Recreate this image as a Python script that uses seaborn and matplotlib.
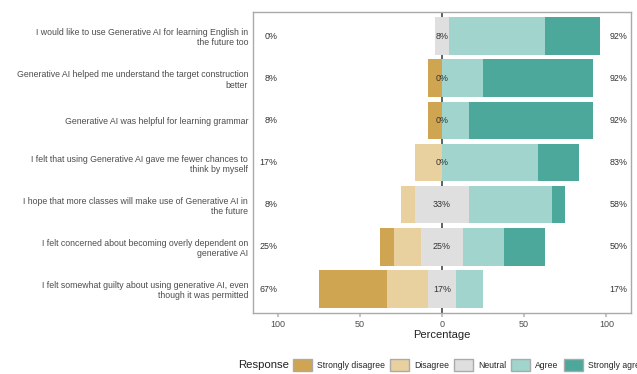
import numpy as np
import pandas as pd
import matplotlib
matplotlib.use("Agg")
import matplotlib.pyplot as plt
import seaborn as sns
from matplotlib.patches import Patch

# Survey items (top to bottom) and response counts (n = 12)
items = [
    "I would like to use Generative AI for learning English in\nthe future too",
    "Generative AI helped me understand the target construction\nbetter",
    "Generative AI was helpful for learning grammar",
    "I felt that using Generative AI gave me fewer chances to\nthink by myself",
    "I hope that more classes will make use of Generative AI in\nthe future",
    "I felt concerned about becoming overly dependent on\ngenerative AI",
    "I felt somewhat guilty about using generative AI, even\nthough it was permitted",
]
levels = ["Strongly disagree", "Disagree", "Neutral", "Agree", "Strongly agree"]
strongly_disagree = [0, 1, 1, 0, 0, 1, 5]
disagree = [0, 0, 0, 2, 1, 2, 3]
neutral = [1, 0, 0, 0, 4, 3, 2]
agree = [7, 3, 2, 7, 6, 3, 2]
strongly_agree = [4, 8, 9, 3, 1, 3, 0]
n_resp = 12

colors = ["#CFA551", "#E8D19F", "#DFDFDF", "#A0D4CC", "#4BA89B"]

sns.set_theme(style="white")
plt.rcParams["font.family"] = ["Liberation Sans", "DejaVu Sans"]

df = pd.DataFrame({
    "item": items,
    "sd": strongly_disagree, "d": disagree, "n": neutral,
    "a": agree, "sa": strongly_agree,
})
for c in ["sd", "d", "n", "a", "sa"]:
    df[c] = df[c] / n_resp * 100

# cumulative ends for the diverging stack
half = df["n"] / 2
layers = [
    (half + df["a"] + df["sa"], colors[4]),
    (half + df["a"], colors[3]),
    (-(half + df["d"] + df["sd"]), colors[0]),
    (-(half + df["d"]), colors[1]),
    (half, colors[2]),
    (-half, colors[2]),
]

fig = plt.figure(figsize=(6.37, 3.74), dpi=100)
ax = fig.add_axes([0.397, 0.163, 0.5936, 0.805])

ax.axvline(0, color="#555555", lw=1.3, zorder=0)
for ends, col in layers:
    d = pd.DataFrame({"item": df["item"], "end": ends})
    sns.barplot(data=d, x="end", y="item", order=items, color=col,
                saturation=1, width=0.89, errorbar=None, linewidth=0,
                orient="h", ax=ax, zorder=2)

low = df["sd"] + df["d"]
high = df["a"] + df["sa"]
for i in range(len(items)):
    ax.text(-100, i, f"{low[i]:.0f}%", ha="right", va="center",
            fontsize=6.4, color="#333333", zorder=3)
    ax.text(102, i, f"{high[i]:.0f}%", ha="left", va="center",
            fontsize=6.4, color="#333333", zorder=3)
    ax.text(0, i, f"{df['n'][i]:.0f}%", ha="center", va="center",
            fontsize=6.4, color="#333333", zorder=3)

ax.set_xlim(-115, 115)
ax.set_ylim(6.57, -0.57)
ax.set_xticks([-100, -50, 0, 50, 100])
ax.set_xticklabels(["100", "50", "0", "50", "100"])
ax.tick_params(axis="x", length=3, color="#BBBBBB", labelsize=6.5,
               labelcolor="#4D4D4D", pad=2, bottom=True)
ax.tick_params(axis="y", length=0, labelsize=6.35, labelcolor="#4D4D4D", pad=3.5)
for lab in ax.get_yticklabels():
    lab.set_horizontalalignment("right")
    lab.set_multialignment("right")
ax.set_ylabel("")
ax.set_xlabel("Percentage", fontsize=8.0, color="#222222", labelpad=0.5)
for s in ax.spines.values():
    s.set_visible(True)
    s.set_color("#AAAAAA")
    s.set_linewidth(1)

handles = [Patch(facecolor=c, edgecolor="#AAAAAA", linewidth=1) for c in colors]
fig.legend(handles, levels, loc="center left", bbox_to_anchor=(293 / 637, 0.024),
           ncol=5, frameon=False, fontsize=6.2, handlelength=2.2,
           handleheight=1.9, handletextpad=0.58, columnspacing=0.6,
           borderaxespad=0, borderpad=0)
fig.text(238 / 637, 0.024, "Response", fontsize=8.2, color="#222222",
         ha="left", va="center")

fig.savefig("out.png", dpi=100)
